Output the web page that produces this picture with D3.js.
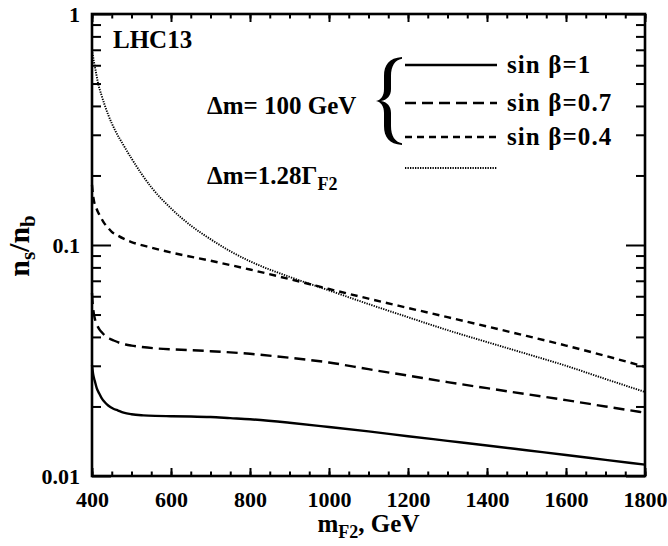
<!DOCTYPE html>
<html><head><meta charset="utf-8">
<script src="https://cdn.jsdelivr.net/npm/d3@7/dist/d3.min.js"></script>
<style>
body{margin:0;background:#fff}
svg{display:block}
text{font-family:"Liberation Serif","Times New Roman",serif;font-weight:bold;fill:#000}
</style>
</head><body>
<svg id="c" width="668" height="546"></svg>
<script>
// ---------- data ----------
const xTickValues = [400,600,800,1000,1200,1400,1600,1800];
const xMinorValues = d3.range(400,1801,50);
const yTickValues = [0.01,0.1,1];
const yTickLabels = ["0.01","0.1","1"];
const yMinorValues = [0.02,0.03,0.04,0.05,0.06,0.07,0.08,0.09,0.2,0.3,0.4,0.5,0.6,0.7,0.8,0.9];

// sin(beta)=1, solid
const sin1Mass = [400,403,407,412,418,424,432,441,453,466,480,500,530,560,600,650,700,750,800,900,1000,1100,1200,1300,1400,1500,1600,1700,1800];
const sin1Ratio = [0.0302,0.0275,0.0258,0.0240,0.0228,0.0218,0.0209,0.0202,0.0196,0.0192,0.0188,0.0185,0.0183,0.0182,0.01815,0.0181,0.0180,0.0178,0.0176,0.0170,0.0163,0.0156,0.01487,0.01420,0.01356,0.01293,0.01233,0.01175,0.0112];

// sin(beta)=0.7, long dash
const sin07Mass = [400,401,403,406,410,415,420,427,435,445,455,470,485,500,520,560,610,700,800,900,1000,1100,1200,1300,1400,1500,1600,1700,1800];
const sin07Ratio = [0.062,0.058,0.053,0.049,0.0462,0.0442,0.0428,0.0415,0.0403,0.0393,0.0386,0.0377,0.0371,0.0367,0.0363,0.0357,0.0353,0.0347,0.0338,0.0325,0.0310,0.0290,0.0272,0.0255,0.0240,0.0226,0.0213,0.0200,0.0188];

// sin(beta)=0.4, short dash
const sin04Mass = [400,402,405,410,415,420,430,440,450,465,480,500,550,600,700,800,900,1000,1100,1200,1300,1400,1500,1600,1700,1800];
const sin04Ratio = [0.182,0.168,0.155,0.146,0.139,0.134,0.125,0.119,0.114,0.110,0.1065,0.103,0.0975,0.0928,0.0855,0.0783,0.0712,0.0645,0.0586,0.0534,0.0487,0.0444,0.0404,0.0367,0.0331,0.0297];

// delta m = 1.28 Gamma, dotted
const gamMass = [400,405,410,415,425,440,460,480,500,550,600,650,700,750,800,900,1000,1100,1200,1300,1400,1500,1600,1700,1800];
const gamRatio = [0.70,0.62,0.56,0.505,0.44,0.37,0.31,0.27,0.237,0.178,0.144,0.1215,0.106,0.094,0.085,0.0728,0.0636,0.0555,0.0487,0.0428,0.0380,0.0338,0.0300,0.0263,0.0231];

const legendLabels = ["sin β=1","sin β=0.7","sin β=0.4"];

// ---------- layout ----------
const L = 92, R = 645, T = 14, B = 476;
const svg = d3.select("#c");
const x = d3.scaleLinear().domain([400,1800]).range([L,R]);
const y = d3.scaleLog().domain([0.01,1]).range([B,T]);

const styles = [
  {m:sin1Mass, v:sin1Ratio, dash:null, w:2.4},
  {m:sin07Mass, v:sin07Ratio, dash:"11,6", w:2.4},
  {m:sin04Mass, v:sin04Ratio, dash:"7,5", w:2.4},
  {m:gamMass, v:gamRatio, dash:"1.3,1.2", w:1.9}
];

const line = d3.line().x(d=>x(d[0])).y(d=>y(d[1])).curve(d3.curveMonotoneX);
styles.forEach(s=>{
  const pts = s.m.map((m,i)=>[m,s.v[i]]);
  svg.append("path").attr("d",line(pts)).attr("fill","none").attr("stroke","#000")
    .attr("stroke-width",s.w).attr("stroke-dasharray",s.dash);
});

function styleAxis(g,fs){
  g.select(".domain").remove();
  g.selectAll(".tick line").attr("stroke","#000").attr("stroke-width",2);
  g.attr("font-family",null).attr("font-size",fs);
  g.selectAll("text").attr("fill","#000");
}
// bottom / top x ticks
svg.append("g").attr("transform",`translate(0,${B})`)
  .call(d3.axisBottom(x).tickValues(xMinorValues).tickSize(-4.5).tickFormat(""))
  .call(g=>styleAxis(g,22));
svg.append("g").attr("transform",`translate(0,${B})`)
  .call(d3.axisBottom(x).tickValues(xTickValues).tickSize(-8).tickPadding(15).tickFormat(d3.format("d")))
  .call(g=>styleAxis(g,22));
svg.append("g").attr("transform",`translate(0,${T})`)
  .call(d3.axisTop(x).tickValues(xMinorValues).tickSize(-4.5).tickFormat(""))
  .call(g=>styleAxis(g,22));
svg.append("g").attr("transform",`translate(0,${T})`)
  .call(d3.axisTop(x).tickValues(xTickValues).tickSize(-8).tickFormat(""))
  .call(g=>styleAxis(g,22));
// left / right y ticks
svg.append("g").attr("transform",`translate(${L},0)`)
  .call(d3.axisLeft(y).tickValues(yMinorValues).tickSize(-9).tickFormat(""))
  .call(g=>styleAxis(g,22));
svg.append("g").attr("transform",`translate(${L},0)`)
  .call(d3.axisLeft(y).tickValues(yTickValues).tickSize(-19).tickPadding(12).tickFormat((d,i)=>yTickLabels[i]))
  .call(g=>styleAxis(g,22))
  .call(g=>g.selectAll("text").attr("dy","0.36em"));
svg.append("g").attr("transform",`translate(${R},0)`)
  .call(d3.axisRight(y).tickValues(yMinorValues).tickSize(-9).tickFormat(""))
  .call(g=>styleAxis(g,22));
svg.append("g").attr("transform",`translate(${R},0)`)
  .call(d3.axisRight(y).tickValues(yTickValues).tickSize(-19).tickFormat(""))
  .call(g=>styleAxis(g,22));

// frame
svg.append("rect").attr("x",L).attr("y",T).attr("width",R-L).attr("height",B-T)
  .attr("fill","none").attr("stroke","#000").attr("stroke-width",2.6);

// axis titles
const xt = svg.append("text").attr("x",(L+R)/2).attr("y",532).attr("text-anchor","middle").attr("font-size",25);
xt.append("tspan").text("m");
xt.append("tspan").attr("font-size",18).attr("dy",6).text("F2");
xt.append("tspan").attr("dy",-6).text(", GeV");

const yt = svg.append("text").attr("transform","translate(29,246) rotate(-90)").attr("text-anchor","middle").attr("font-size",30);
yt.append("tspan").text("n");
yt.append("tspan").attr("font-size",21).attr("dy",6).text("s");
yt.append("tspan").attr("dy",-6).text("/n");
yt.append("tspan").attr("font-size",21).attr("dy",6).text("b");

// annotations
svg.append("text").attr("x",113).attr("y",48).attr("font-size",25).text("LHC13");
svg.append("text").attr("x",207).attr("y",114).attr("font-size",25).text("Δm= 100 GeV");
const gt = svg.append("text").attr("x",207).attr("y",184).attr("font-size",25);
gt.append("tspan").text("Δm=1.28Γ");
gt.append("tspan").attr("font-size",18).attr("dy",6).text("F2");

// legend
const legY = [65,103,137,168];
const lx0 = 405, lx1 = 497;
styles.forEach((s,i)=>{
  svg.append("line").attr("x1",lx0).attr("x2",lx1).attr("y1",legY[i]).attr("y2",legY[i])
    .attr("stroke","#000").attr("stroke-width",s.w).attr("stroke-dasharray",s.dash);
  if(i<3) svg.append("text").attr("x",507).attr("y",legY[i]+8).attr("font-size",25)
    .attr("letter-spacing",1.1).text(legendLabels[i]);
});

// curly brace
const bx = 377, byT = 57, byB = 145, bw = 25;
const bc = (byT+byB)/2;
const p = d3.path();
p.moveTo(bx+bw, byT);
p.bezierCurveTo(bx+12, byT+1, bx+7, byT+8, bx+7, byT+19);
p.lineTo(bx+7, bc-12);
p.bezierCurveTo(bx+7, bc-5, bx+4, bc-1, bx-1, bc);
p.bezierCurveTo(bx+4, bc+1, bx+7, bc+5, bx+7, bc+12);
p.lineTo(bx+7, byB-19);
p.bezierCurveTo(bx+7, byB-8, bx+12, byB-1, bx+bw, byB);
p.lineTo(bx+bw, byB-1.8);
p.bezierCurveTo(bx+18, byB-3, bx+14, byB-9, bx+14, byB-19);
p.lineTo(bx+14, bc+12);
p.bezierCurveTo(bx+14, bc+5, bx+10, bc+1, bx+4, bc);
p.bezierCurveTo(bx+10, bc-1, bx+14, bc-5, bx+14, bc-12);
p.lineTo(bx+14, byT+19);
p.bezierCurveTo(bx+14, byT+9, bx+18, byT+3, bx+bw, byT+1.8);
p.closePath();
svg.append("path").attr("d",p.toString()).attr("fill","#000");
</script>
</body></html>
